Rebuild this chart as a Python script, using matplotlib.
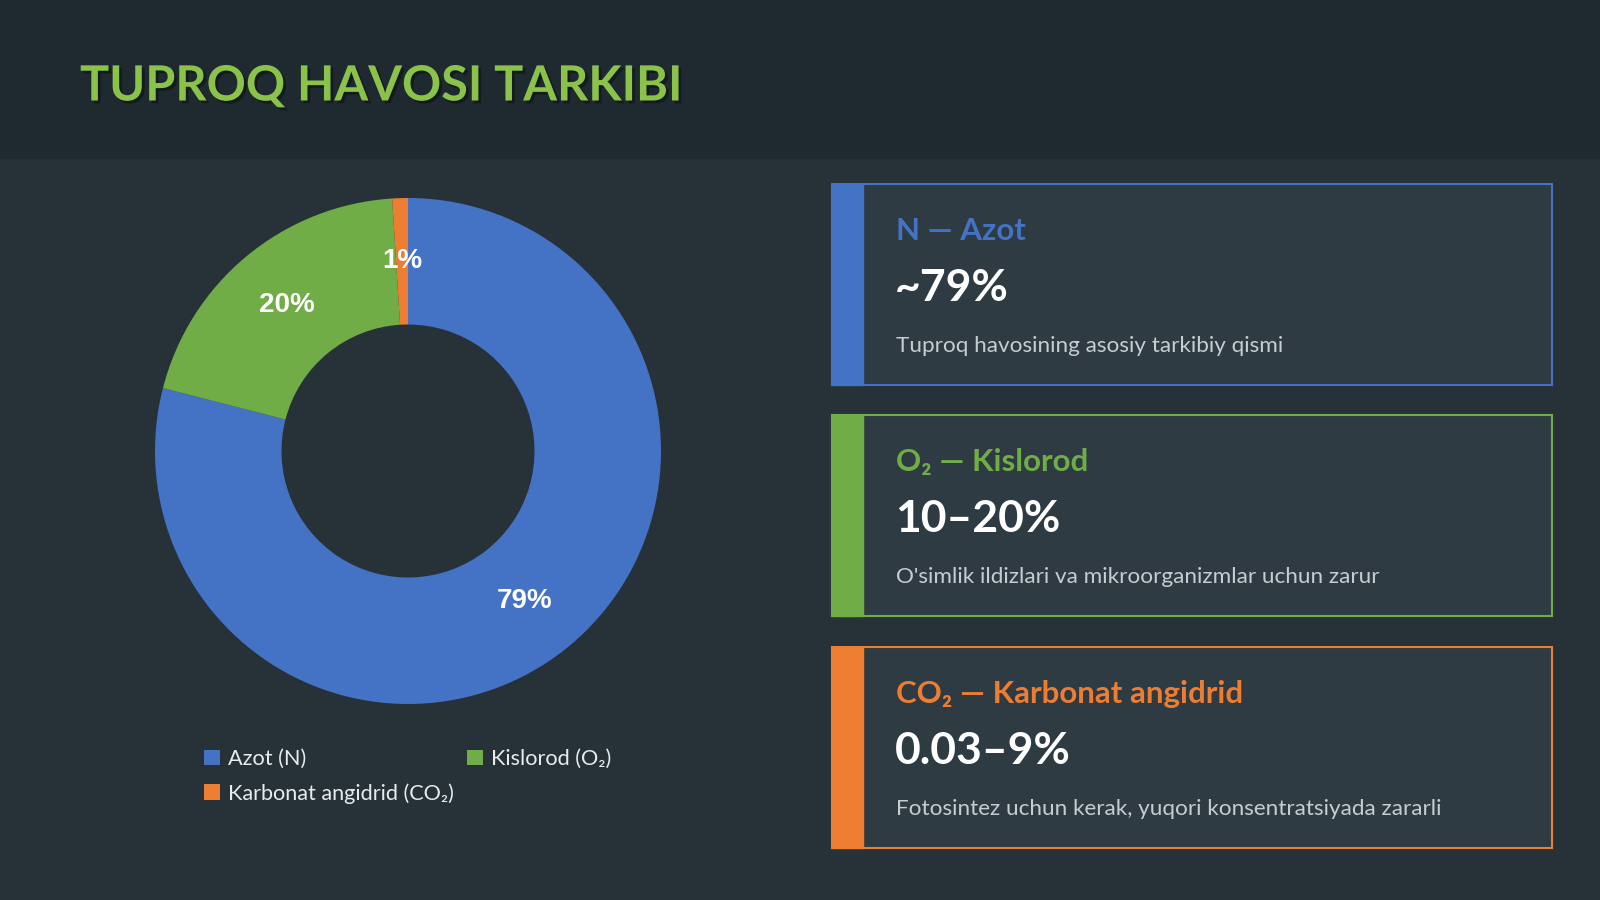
import matplotlib.pyplot as plt
from matplotlib.patches import Rectangle
import matplotlib.patheffects as pe

plt.rcParams['font.family'] = ['Lato', 'DejaVu Sans']

# data
labels = ['Azot (N)', 'Kislorod (O₂)', 'Karbonat angidrid (CO₂)']
values = [79, 20, 1]
colors = ['#4472C4', '#70AD47', '#ED7D31']

card_titles = ['N — Azot', 'O₂ — Kislorod', 'CO₂ — Karbonat angidrid']
card_values = ['~79%', '10–20%', '0.03–9%']
card_texts = ['Tuproq havosining asosiy tarkibiy qismi',
              "O'simlik ildizlari va mikroorganizmlar uchun zarur",
              'Fotosintez uchun kerak, yuqori konsentratsiyada zararli']

W, H = 1600, 900
fig = plt.figure(figsize=(16, 9), dpi=100)
fig.patch.set_facecolor('#263238')

# background layer in pixel coords
bg = fig.add_axes([0, 0, 1, 1])
bg.set_xlim(0, W)
bg.set_ylim(H, 0)
bg.axis('off')
bg.add_patch(Rectangle((0, 0), W, 158, color='#1F2A30', zorder=0))

bg.text(80, 86, 'TUPROQ HAVOSI TARKIBI', color='#8BC34A', fontsize=35,
        fontweight='bold', va='center', ha='left',
        path_effects=[pe.withSimplePatchShadow(offset=(2, -2), shadow_rgbFace='#10181c', alpha=0.8)])

# cards
card_top = [184, 415, 647]
card_h = 201
x0, x1 = 832, 1552
for i in range(3):
    y = card_top[i]
    bg.add_patch(Rectangle((x0, y), x1 - x0, card_h, facecolor='#2E3B42',
                           edgecolor=colors[i], linewidth=1.5, zorder=1))
    bg.add_patch(Rectangle((x0, y), 31, card_h, color=colors[i], zorder=3))
    bg.text(896, y + 47, card_titles[i], color=colors[i], fontsize=22.5,
            fontweight='bold', va='center', ha='left')
    bg.text(895, y + 104, card_values[i], color='white', fontsize=32,
            fontweight='bold', va='center', ha='left')
    bg.text(896, y + 162, card_texts[i], color='#C5CDD2', fontsize=16.2,
            va='center', ha='left')

# donut
cx, cy, r = 408, 451, 253
ax = fig.add_axes([(cx - r) / W, (H - cy - r) / H, 2 * r / W, 2 * r / H])
wedges, _, autotexts = ax.pie(values, colors=colors, startangle=90, counterclock=False,
                              radius=1, wedgeprops=dict(width=0.5, linewidth=0),
                              autopct='%d%%', pctdistance=0.75,
                              textprops=dict(color='white', fontsize=20, fontweight='bold',
                                             family=['Liberation Sans', 'DejaVu Sans']))
ax.set_xlim(-1, 1)
ax.set_ylim(-1, 1)
ax.axis('off')

# legend (row order: Azot, Kislorod / Karbonat)
order = [0, 2, 1]
leg = fig.legend([wedges[k] for k in order], [labels[k] for k in order], ncol=2,
                 loc='upper left', bbox_to_anchor=(204 / W, 1 - 749 / H),
                 frameon=False, fontsize=15.6, labelcolor='#E8ECEE',
                 handlelength=0.75, handleheight=0.75, handletextpad=0.35,
                 columnspacing=0.6, labelspacing=0.66, borderpad=0, borderaxespad=0)

fig.savefig('out.png', dpi=100, facecolor=fig.get_facecolor())
